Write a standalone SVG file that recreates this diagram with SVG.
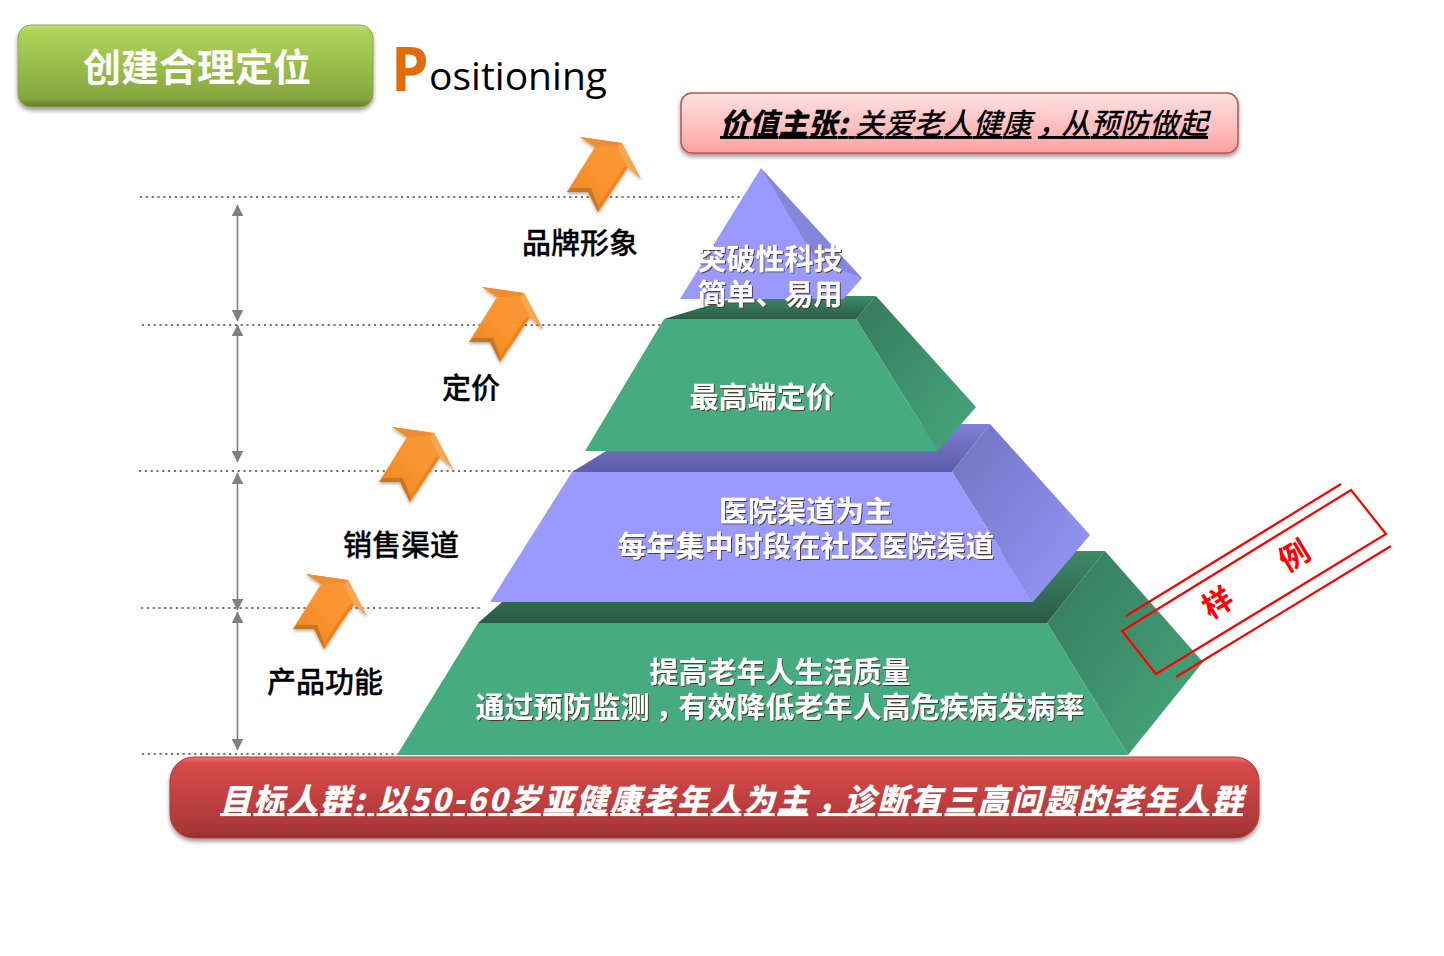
<svg xmlns="http://www.w3.org/2000/svg" xmlns:xlink="http://www.w3.org/1999/xlink" width="1444" height="956" viewBox="0 0 1444 956">
<style>
text{font-family:"Noto Sans CJK SC","Liberation Sans",sans-serif}
.lbl{font-size:29px;font-weight:500;fill:#000;text-anchor:middle;stroke:#000;stroke-width:.3}
.pt{font-size:29px;font-weight:700;fill:#fff;text-anchor:middle;filter:url(#ts)}
.dot{stroke:#777;stroke-width:2.200;stroke-dasharray:2.200 3.600;fill:none}
.dim{stroke:#808080;stroke-width:1.6;fill:none;marker-start:url(#ah);marker-end:url(#ah)}
.st{stroke:#f00;stroke-width:2.2;fill:none}
</style>
<defs>
<marker id="ah" viewBox="0 0 10 10" refX="9.5" refY="5" markerWidth="12" markerHeight="12" orient="auto-start-reverse" markerUnits="userSpaceOnUse"><path d="M0 0 10 5 0 10Z" fill="#808080"/></marker>
<linearGradient id="gGreen" x1="0" y1="0" x2="0" y2="1"><stop offset="0" stop-color="#c4e27a"/><stop offset=".07" stop-color="#aed45a"/><stop offset=".9" stop-color="#85a63e"/><stop offset="1" stop-color="#5f7a2c"/></linearGradient>
<linearGradient id="gPink" x1="0" y1="0" x2="0" y2="1"><stop offset="0" stop-color="#ffe2e2"/><stop offset="1" stop-color="#ffa2a2"/></linearGradient>
<linearGradient id="gRed" x1="0" y1="0" x2="0" y2="1"><stop offset="0" stop-color="#f27070"/><stop offset=".08" stop-color="#d94a4a"/><stop offset=".92" stop-color="#a83737"/><stop offset="1" stop-color="#8a2c2c"/></linearGradient>
<linearGradient id="gOr" x1="1" y1="0" x2="0" y2="1"><stop offset="0" stop-color="#f5983f"/><stop offset=".5" stop-color="#fb9530"/><stop offset="1" stop-color="#e8841f"/></linearGradient>
<linearGradient id="gGT" x1="0" y1="0" x2="0" y2="1"><stop offset="0" stop-color="#3d8a68"/><stop offset="1" stop-color="#2b5b46"/></linearGradient>
<linearGradient id="gGS" x1="0" y1="0" x2="1" y2="1"><stop offset="0" stop-color="#35795c"/><stop offset="1" stop-color="#46a97c"/></linearGradient>
<linearGradient id="gBT" x1="0" y1="0" x2="0" y2="1"><stop offset="0" stop-color="#7f7fd6"/><stop offset="1" stop-color="#5c5ca8"/></linearGradient>
<linearGradient id="gBS" x1="0" y1="0" x2="1" y2="1"><stop offset="0" stop-color="#7272c0"/><stop offset="1" stop-color="#9898fa"/></linearGradient>
<filter id="sh" x="-5%" y="-20%" width="110%" height="140%"><feDropShadow dx="0" dy="3" stdDeviation="2" flood-color="#000" flood-opacity=".4"/></filter>
<filter id="sa" x="-20%" y="-20%" width="140%" height="140%"><feDropShadow dx="0" dy="2" stdDeviation="1.500" flood-color="#000" flood-opacity=".3"/></filter>
<filter id="ts" x="-5%" y="-20%" width="110%" height="140%"><feDropShadow dx="1" dy="1" stdDeviation="0" flood-color="#4a3020" flood-opacity=".9"/></filter>
<g id="arw" filter="url(#sa)">
<polygon points="0,0 42,6 61,42 48,30 18,75 8,55 -13,55 15,10" fill="url(#gOr)"/>
<polygon points="0,0 42,6 37,9 15,10" fill="#ee8d30"/>
<polygon points="42,6 61,42 48,30 38,12" fill="#f9a750"/>
<polygon points="-13,55 8,55 18,75 18,69 11,51 -9,51" fill="#c97420"/>
<polygon points="48,30 18,75 18,69 44,30" fill="#e8861f"/>
</g>
</defs>
<rect width="1444" height="956" fill="#fff"/>

<g id="connectors">
<line class="dot" x1="140" y1="197" x2="745" y2="197"/>
<line class="dot" x1="142" y1="325" x2="666" y2="325"/>
<line class="dot" x1="139" y1="471" x2="575" y2="471"/>
<line class="dot" x1="141" y1="608" x2="482" y2="608"/>
<line class="dot" x1="142" y1="754" x2="400" y2="754"/>
<line class="dim" x1="237.500" y1="205" x2="237.500" y2="321"/>
<line class="dim" x1="237.500" y1="325" x2="237.500" y2="462"/>
<line class="dim" x1="237.500" y1="473" x2="237.500" y2="610"/>
<line class="dim" x1="237.500" y1="612" x2="237.500" y2="750"/>
</g>

<g id="title-box"><rect x="18" y="25" width="355" height="82" rx="13" fill="url(#gGreen)" stroke="#8aa84a" stroke-width="1" filter="url(#sh)"/>
<text x="197" y="81" font-size="38" font-weight="700" fill="#fff" text-anchor="middle">创建合理定位</text></g>

<g id="positioning"><text x="391" y="91" style="font-family:'Open Sans',sans-serif" font-size="60" font-weight="700" fill="#e36c0a">P</text>
<text x="429" y="90" style="font-family:'Open Sans',sans-serif" font-size="39" fill="#000" textLength="178" lengthAdjust="spacingAndGlyphs">ositioning</text></g>

<g id="value-box"><rect x="681" y="93" width="557" height="60" rx="11" fill="url(#gPink)" stroke="#c0504d" stroke-width="1.500" filter="url(#sh)"/>
<text x="720" y="134" font-size="29" font-style="italic" font-weight="500" fill="#000" text-decoration="underline" textLength="488"><tspan font-weight="900">价值主张:</tspan> 关爱老人健康<tspan dx="6">，</tspan><tspan dx="-6">从预防做起</tspan></text></g>

<g id="arrow-brand"><use xlink:href="#arw" href="#arw" x="580" y="137"/><text class="lbl" x="580" y="254">品牌形象</text></g>
<g id="arrow-price"><use xlink:href="#arw" href="#arw" x="482" y="287"/><text class="lbl" x="471" y="399">定价</text></g>
<g id="arrow-channel"><use xlink:href="#arw" href="#arw" x="392" y="427"/><text class="lbl" x="401" y="556">销售渠道</text></g>
<g id="arrow-product"><use xlink:href="#arw" href="#arw" x="306" y="574"/><text class="lbl" x="325" y="693">产品功能</text></g>

<g id="layer-4">
<polygon points="478,623 1047,623 1105,551 560,551" fill="url(#gGT)"/>
<polygon points="1047,623 1105,551 1203,662 1128,755" fill="url(#gGS)"/>
<polygon points="478,623 397,755 1128,755 1047,623" fill="#46ab7e"/>
</g>
<g id="layer-3">
<polygon points="572,472 952,472 990,424 650,424" fill="url(#gBT)"/>
<polygon points="952,472 990,424 1090,535 1033,602" fill="url(#gBS)"/>
<polygon points="572,472 490,602 1033,602 952,472" fill="#9999ff"/>
</g>
<g id="layer-2">
<polygon points="664,319 856,319 876,296 740,296" fill="url(#gGT)"/>
<polygon points="856,319 876,296 976,407 938,451" fill="url(#gGS)"/>
<polygon points="664,319 585,451 938,451 856,319" fill="#46ab7e"/>
</g>
<g id="layer-1">
<polygon points="761,168 862,278 843,299 828,299" fill="#8585dc"/>
<polygon points="816,260 862,278 843,299 828,299" fill="#9999ff"/>
<polygon points="761,168 680,299 843,299 816,260" fill="#9999ff"/>
<text class="pt" x="770" y="270">突破性科技</text>
<text class="pt" x="770" y="305">简单、易用</text>
</g>
<g id="layer-2-text"><text class="pt" x="762" y="408">最高端定价</text></g>
<g id="layer-3-text"><text class="pt" x="806" y="522">医院渠道为主</text>
<text class="pt" x="806" y="557">每年集中时段在社区医院渠道</text></g>
<g id="layer-4-text"><text class="pt" x="780" y="683">提高老年人生活质量</text>
<text class="pt" x="780" y="718">通过预防监测<tspan dx="6">，</tspan><tspan dx="-6">有效降低老年人高危疾病发病率</tspan></text></g>

<g id="target-box"><rect x="170" y="757" width="1089" height="81" rx="24" fill="url(#gRed)" stroke="#b03c3c" stroke-width="1" filter="url(#sh)"/>
<text x="220" y="811" font-size="31" font-weight="900" font-style="italic" fill="#fff" text-decoration="underline" textLength="1023">目标人群: 以50-60岁亚健康老年人为主<tspan dx="6">，</tspan><tspan dx="-6">诊断有三高问题的老年人群</tspan></text></g>

<g id="stamp">
<path d="M1126 616 1341 484M1176 677 1391 546" class="st"/>
<polygon points="1122,631 1351,490 1386,534 1156,674" class="st"/>
<text x="1256" y="590" font-size="30" font-weight="700" fill="#f00" text-anchor="middle" transform="rotate(-31.500 1256 579)">样　　例</text>
</g>
</svg>
